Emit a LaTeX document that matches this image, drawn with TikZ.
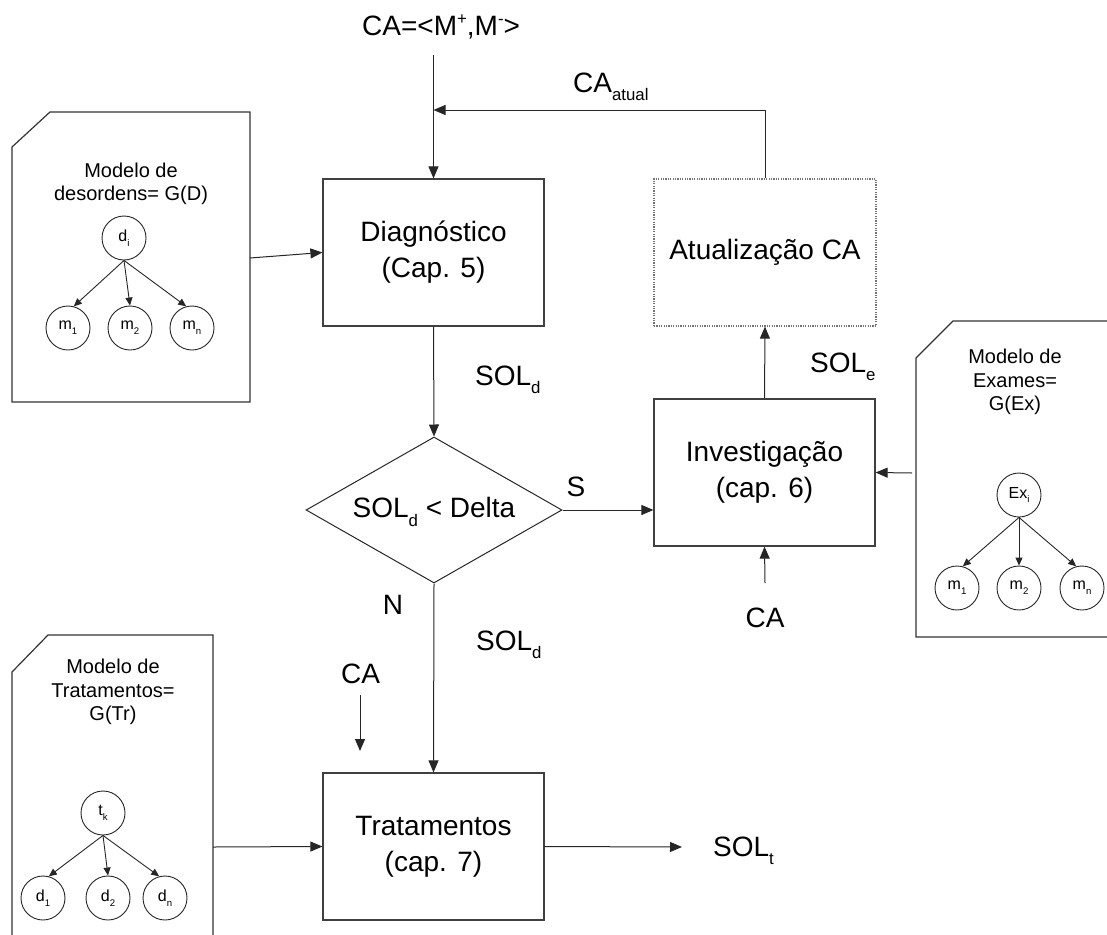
\documentclass[tikz,border=0pt]{standalone}
\usepackage{fontspec}
\setmainfont{Liberation Sans}
\usetikzlibrary{arrows.meta,shapes.geometric}
\makeatletter
% lowered / raised small text for indices
\newcommand\lowtext[1]{{\dimen@=\f@size\p@ \dimen@=0.6\dimen@
  \edef\lowsz{\strip@pt\dimen@}%
  \raisebox{-0.3em}{\fontsize{\lowsz}{\lowsz}\selectfont #1}}}
\newcommand\hightext[1]{{\dimen@=\f@size\p@ \dimen@=0.6\dimen@
  \edef\lowsz{\strip@pt\dimen@}%
  \raisebox{0.42em}{\fontsize{\lowsz}{\lowsz}\selectfont #1}}}
\makeatother
\begin{document}
\begin{tikzpicture}[x=1pt,y=-1pt,
  every node/.style={inner sep=0pt, font=\fontsize{28}{36}\selectfont, align=center},
  proc/.style={draw=black!75, line width=1.2pt, minimum width=221pt, minimum height=147pt},
  procdot/.style={draw=black!55, line width=1.2pt, dash pattern=on 1.2pt off 1.2pt,
    minimum width=222pt, minimum height=147pt},
  decision/.style={diamond, draw=black!85, line width=1pt, minimum width=256pt, minimum height=146pt},
  wire/.style={draw=black!85, line width=1pt},
  arr/.style={wire, -{Triangle[length=12pt,width=10pt]}},
  docline/.style={draw=black!80, line width=1.2pt},
  doctext/.style={font=\fontsize{20}{23.5}\selectfont},
  circ/.style={circle, draw=black!85, line width=0.9pt, minimum size=44pt, font=\fontsize{16}{18}\selectfont},
  tree/.style={draw=black!85, line width=0.9pt, -{Triangle[length=8pt,width=7pt]}},
  lbl/.style={anchor=base west}
]
\useasboundingbox (0,0) rectangle (1107,934);
\clip (0,0) rectangle (1107,934);

% ---------- process blocks ----------
\node[proc] (diag) at (433.5,252.5) {Diagnóstico\\(Cap. 5)};
\node[procdot] (atual) at (765,252.5) {Atualização CA};
\node[proc] (inv) at (764.5,472.5) {Investigação\\(cap. 6)};
\node[proc] (trat) at (433.5,846.5) {Tratamentos\\(cap. 7)};
\node[decision] (dec) at (434,510) {};
\node (dectext) at (434,512) {SOL\lowtext{d} < Delta};

% ---------- model documents ----------
\draw[docline] (12,147) -- (50,112) -- (250,112) -- (250,402) -- (12,402) -- cycle;
\node[doctext] (docD) at (131,184) {Modelo de\\desordens= G(D)};
\draw[docline] (12,672) -- (48,635) -- (213,635) -- (213,950) -- (12,950) -- cycle;
\node[doctext] (docTr) at (113,692) {Modelo de\\Tratamentos=\\G(Tr)};
\draw[docline] (1125,321) -- (953,321) -- (916,358) -- (916,637) -- (1125,637);
\node[doctext] (docEx) at (1015,382) {Modelo de\\Exames=\\G(Ex)};

% ---------- graphs inside the documents ----------
\node[circ] (di) at (124,238) {d\lowtext{i}};
\node[circ] (m1) at (68,328) {m\lowtext{1}};
\node[circ] (m2) at (130,328) {m\lowtext{2}};
\node[circ] (mn) at (192,328) {m\lowtext{n}};
\draw[tree] (di.south) -- (m1.75);
\draw[tree] (di.south) -- (m2.north);
\draw[tree] (di.south) -- (mn.105);

\node[circ] (tk) at (103,813) {t\lowtext{k}};
\node[circ] (d1) at (43,898) {d\lowtext{1}};
\node[circ] (d2) at (108,898) {d\lowtext{2}};
\node[circ] (dn) at (165,898) {d\lowtext{n}};
\draw[tree] (tk.south) -- (d1.75);
\draw[tree] (tk.south) -- (d2.north);
\draw[tree] (tk.south) -- (dn.105);

\node[circ] (exi) at (1019,495) {Ex\lowtext{i}};
\node[circ] (em1) at (957,588) {m\lowtext{1}};
\node[circ] (em2) at (1019,588) {m\lowtext{2}};
\node[circ] (emn) at (1082,588) {m\lowtext{n}};
\draw[tree] (exi.south) -- (em1.75);
\draw[tree] (exi.south) -- (em2.north);
\draw[tree] (exi.south) -- (emn.105);

% ---------- free ends of connectors ----------
\coordinate (topin) at (433.5,55);
\coordinate (fb) at (433.5,110);
\coordinate (dDout) at (250,258);
\coordinate (dTout) at (213,847);
\coordinate (dExout) at (912,473);
\coordinate (caTstart) at (360,695);
\coordinate (caTend) at (360,751);
\coordinate (caIstart) at (765,583);
\coordinate (solt) at (682,847);

% ---------- labels ----------
\node[lbl] (caIn) at (362,36) {CA=<M\hightext{+},M\hightext{-}>};
\node[lbl] (caAt) at (573,92) {CA\lowtext{atual}};
\node[lbl] (solD1) at (475,385) {SOL\lowtext{d}};
\node (sLbl) at (576,487) {S};
\node (nLbl) at (393,605) {N};
\node[lbl] (solD2) at (476,650) {SOL\lowtext{d}};
\node (caT) at (360.5,674) {CA};
\node (caI) at (765,618) {CA};
\node[lbl] (solE) at (810,372) {SOL\lowtext{e}};
\node[lbl] (solT) at (713,856) {SOL\lowtext{t}};

% ---------- connectors ----------
\draw[arr] (topin) -- (diag.north);
\draw[arr] (atual.north) |- (fb);
\draw[arr] (dDout) -- (diag.west);
\draw[arr] (diag.south) -- (dec.north);
\draw[arr] (dec.east) -- (dec.east -| inv.west);
\draw[arr] (dec.south) -- (trat.north);
\draw[arr] (inv.north) -- (atual.south);
\draw[arr] (dExout) -- (inv.east);
\draw[arr] (caIstart) -- (inv.south);
\draw[arr] (caTstart) -- (caTend);
\draw[arr] (dTout) -- (trat.west);
\draw[arr] (trat.east) -- (solt);
\end{tikzpicture}
\end{document}
